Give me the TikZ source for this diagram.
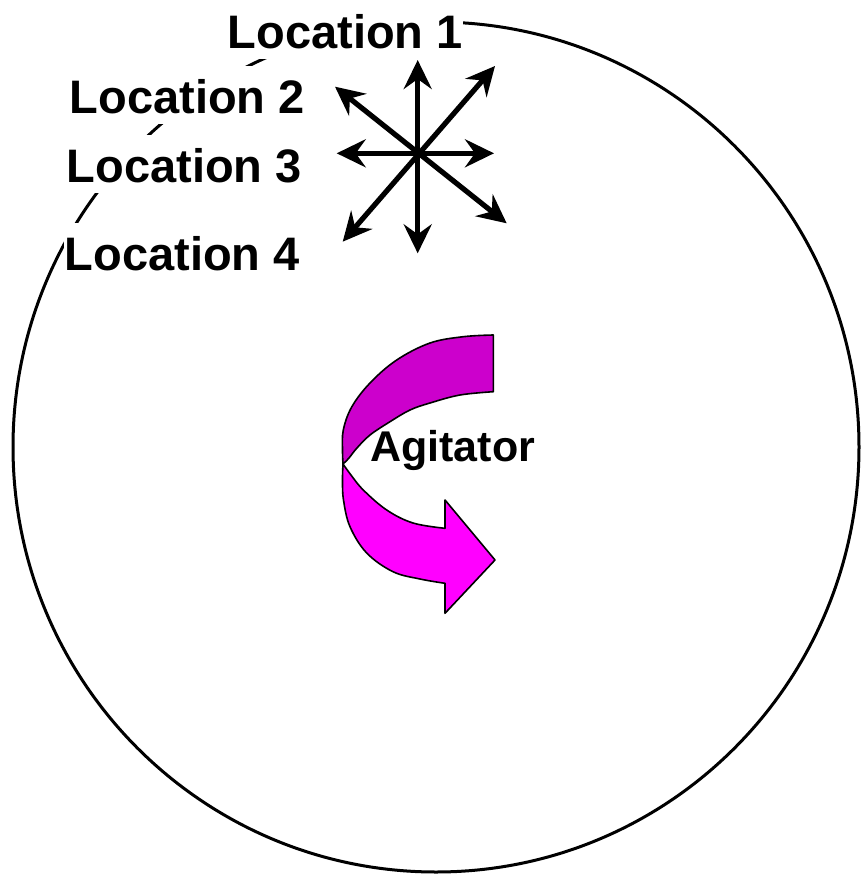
\documentclass[tikz,border=0pt]{standalone}
\usepackage{fontspec}
\setmainfont{Liberation Sans}
\usetikzlibrary{arrows.meta}
\definecolor{darkmag}{HTML}{CC00CC}
\definecolor{brightmag}{HTML}{FF00FF}
\begin{document}
\begin{tikzpicture}[x=1bp,y=-1bp,
  loc/.style={anchor=base west, fill=white, inner xsep=0.5bp, inner ysep=0pt,
    text height=47bp, text depth=11bp,
    font=\fontsize{47bp}{56bp}\selectfont\bfseries},
  agit/.style={anchor=base west, inner sep=0pt,
    font=\fontsize{43bp}{52bp}\selectfont\bfseries},
  starrow/.style={line width=5.2bp,
    {Stealth[length=29bp,width=28bp,inset=10bp]}-{Stealth[length=29bp,width=28bp,inset=10bp]}},
  band/.style={draw=black, line width=1.6bp, line join=round}
]
\useasboundingbox (0,0) rectangle (861,875);
% vessel
\draw[line width=3bp] (436,447) ellipse [x radius=423, y radius=425];
% labels
\node[loc] (l1) at (227,48) {Location 1};
\node[loc] (l2) at (69,113) {Location 2};
\node[loc] (l3) at (66,182) {Location 3};
\node[loc] (l4) at (64,270) {Location 4};
% star of directions
\coordinate (U) at (417.7,60);
\coordinate (D) at (417.7,253.3);
\coordinate (L) at (336.7,153.3);
\coordinate (R) at (494,153.3);
\coordinate (UL) at (335,86.7);
\coordinate (DR) at (506.7,223.3);
\coordinate (UR) at (495,66);
\coordinate (DL) at (342.7,241.7);
\draw[starrow] (U) -- (D);
\draw[starrow] (L) -- (R);
\draw[starrow] (UL) -- (DR);
\draw[starrow] (UR) -- (DL);
% agitator arrow: back (dark) part
\filldraw[band, fill=darkmag] (493.3,391.7) -- (493.3,335)
  -- plot[smooth, tension=0.6] coordinates {(493.3,335) (463.3,336.7) (430,343) (396.7,360) (370,383) (351.7,407) (343.3,430) (342.5,450) (343,464)}
  -- plot[smooth, tension=0.6] coordinates {(343,464) (349,458) (356.7,448.3) (370,435) (390,421.7) (410,410) (430,403) (460,395) (493.3,391.7)}
  -- cycle;
% front (bright) part with head
\filldraw[band, fill=brightmag] (343,464)
  -- plot[smooth, tension=0.6] coordinates {(343,464) (342.5,480) (343.5,500) (350,526.7) (366.7,553) (393,571.7) (420,579) (445,583.3)}
  -- (445,613.3) -- (495,560) -- (445,500) -- (445,528.3)
  -- plot[smooth, tension=0.6] coordinates {(445,528.3) (413,523) (386.7,510) (363.3,490) (351,475) (343,464)}
  -- cycle;
\node[agit] (ag) at (370,461) {Agitator};
\end{tikzpicture}
\end{document}
